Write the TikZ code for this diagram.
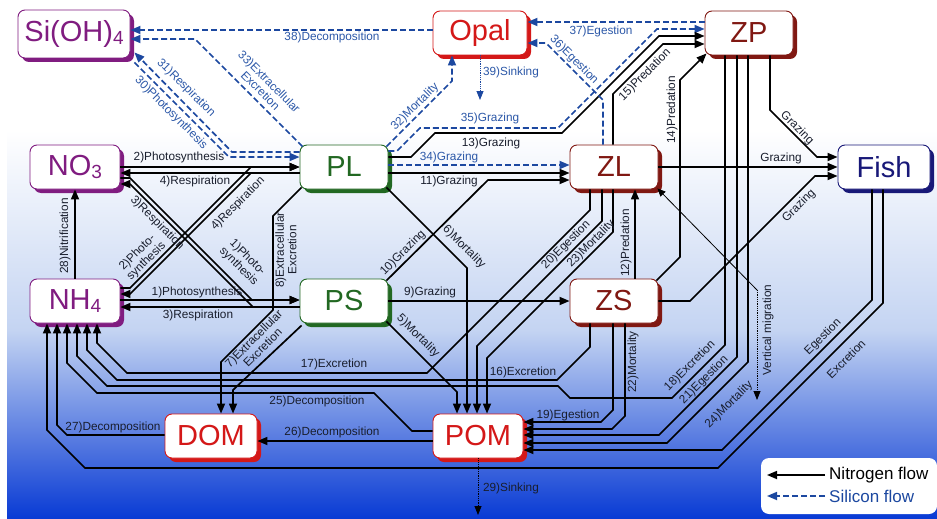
\documentclass[tikz,border=0pt]{standalone}
\usepackage{fontspec}
\setmainfont{Liberation Sans}
\usetikzlibrary{arrows.meta,shadows}
\definecolor{purp}{RGB}{128,28,128}
\definecolor{redc}{RGB}{212,24,24}
\definecolor{maroonc}{RGB}{128,24,18}
\definecolor{grn}{RGB}{34,104,34}
\definecolor{navyc}{RGB}{24,24,120}
\definecolor{silc}{RGB}{28,72,160}
\definecolor{silt}{RGB}{44,88,168}
\definecolor{labc}{RGB}{25,30,45}
\definecolor{bgl}{RGB}{196,212,242}
\definecolor{bgd}{RGB}{8,58,212}
\newcommand\mysub[1]{\raisebox{-3pt}{\fontsize{19}{19}\selectfont #1}}
\tikzset{
  box/.style={draw=#1, line width=0.9pt, fill=white, text=#1, rounded corners=7pt,
    minimum width=88pt, minimum height=44pt, inner sep=0pt,
    font=\fontsize{29}{30}\selectfont,
    general shadow={fill=#1, shadow xshift=4pt, shadow yshift=-4pt}},
  nflow/.style={draw=black, line width=1.7pt, -{Triangle[length=10pt,width=8pt]}},
  sflow/.style={draw=silc, line width=1.7pt, dash pattern=on 6pt off 3pt, -{Triangle[length=10pt,width=8pt]}},
  thinflow/.style={line width=0.8pt, densely dotted, -{Triangle[length=9pt,width=7pt]}},
  lab/.style={font=\fontsize{11.8}{12.5}\selectfont, inner sep=0pt, text=labc, align=center},
  slab/.style={lab, text=silt},
}
\begin{document}
\begin{tikzpicture}[x=1pt,y=-1pt]
\useasboundingbox (0,0) rectangle (937,519);
% background
\fill[white] (0,0) rectangle (937,519);
\shade[top color=white, bottom color=bgl] (0,130) rectangle (937,330);
\shade[top color=bgl, bottom color=bgd] (0,330) rectangle (937,519);
\fill[white] (0,0) rectangle (7,519);

% nodes
\node[box=purp, minimum width=112pt, minimum height=48pt] (Si) at (74,34) {Si(OH)\mysub{4}};
\node[box=redc, minimum width=94pt] (Opal) at (480,33) {Opal};
\node[box=maroonc] (ZP) at (749,33) {ZP};
\node[box=purp, minimum width=90pt] (NO3) at (75,167) {NO\mysub{3}};
\node[box=grn] (PL) at (344,167) {PL};
\node[box=maroonc] (ZL) at (614,167) {ZL};
\node[box=navyc, minimum width=92pt] (Fish) at (884,167) {Fish};
\node[box=purp, minimum width=90pt] (NH4) at (75,301) {NH\mysub{4}};
\node[box=grn] (PS) at (344,301) {PS};
\node[box=maroonc] (ZS) at (614,301) {ZS};
\node[box=redc, minimum width=92pt] (DOM) at (211,436) {DOM};
\node[box=redc, minimum width=90pt] (POM) at (478,436) {POM};

\coordinate (opsink) at (480,100);
\coordinate (pomsink) at (478,515);
\coordinate (vmb) at (757,290);
\coordinate (vme) at (757,400);

% NO3/NH4 <-> PL/PS
\draw[nflow] (NO3.east |- 0,167) -- (PL.west |- 0,167);
\draw[nflow] (PL.west |- 0,173) -- (NO3.east |- 0,173);
\draw[nflow] (NH4.east |- 0,300) -- (PS.west |- 0,300);
\draw[nflow] (PS.west |- 0,307) -- (NH4.east |- 0,307);
\draw[nflow] (NH4.east |- 0,288) -- (130,288) -- (251,167) -- (PL.west |- 0,167);
\draw[nflow] (PL.west |- 0,173) -- (251,173) -- (130,294) -- (NH4.east |- 0,294);
\draw[nflow] (NO3.east |- 0,178) -- (130,178) -- (252,300) -- (PS.west |- 0,300);
\draw[nflow] (PS.west |- 0,307) -- (253,307) -- (130,184) -- (NO3.east |- 0,184);
\draw[nflow] (NH4.north) -- (NO3.south);

% PL / PS outgoing
\draw[sflow] (PL.east |- 0,151) -- (397,151) -- (420,128) -- (558,128) -- (657,29) -- (ZP.west |- 0,29);
\draw[nflow] (PL.east |- 0,157) -- (411,157) -- (435,133) -- (562,133) -- (659,36) -- (ZP.west |- 0,36);
\draw[sflow] (PL.east |- 0,165) -- (ZL.west |- 0,165);
\draw[nflow] (PL.east |- 0,173) -- (ZL.west |- 0,173);
\draw[nflow] ([xshift=-2pt,yshift=-2pt]PS.north east) -- (488,180) -- (ZL.west |- 0,180);
\draw[nflow] ([xshift=-2pt,yshift=2pt]PL.south east) -- (467,268) -- (POM.north -| 467,0);
\draw[nflow] ([xshift=-2pt,yshift=2pt]PS.south east) -- (457,392) -- (POM.north -| 457,0);
\draw[nflow] (PS.east) -- (ZS.west);
\draw[nflow] ([xshift=2pt,yshift=2pt]PL.south west) -- (273,216) -- (273,310) -- (221,362) -- (DOM.north -| 221,0);
\draw[nflow] ([xshift=2pt,yshift=-2pt]PS.south west) -- (233,390) -- (DOM.north -| 233,0);

% ZL
\draw[nflow] (ZL.south -| 590,0) -- (590,210) -- (427,373) -- (127,373) -- (97,343) -- (NH4.south -| 97,0);
\draw[nflow] (ZL.south -| 602,0) -- (602,221) -- (477,346) -- (POM.north -| 477,0);
\draw[nflow] (ZL.south -| 613,0) -- (613,232) -- (487,358) -- (POM.north -| 487,0);
\draw[nflow] (ZS.north -| 635,0) -- (ZL.south -| 635,0);
\draw[nflow] (ZL.north -| 613,0) -- (613,94) -- (663,44) -- (ZP.west |- 0,44);
\draw[sflow] (ZL.north -| 603,0) -- (603,100) -- (546,43) -- (Opal.east |- 0,43);
\draw[nflow] (ZL.east) -- (Fish.west |- 0,167);

% ZS
\draw[nflow] ([xshift=-2pt,yshift=-2pt]ZS.north east) -- (680,257) -- (680,80) -- ([xshift=2pt,yshift=2pt]ZP.south west);
\draw[nflow] (ZS.east) -- (690,301) -- (815,176) -- (Fish.west |- 0,176);
\draw[nflow] (ZS.south -| 590,0) -- (590,347) -- (557,380) -- (117,380) -- (87,350) -- (NH4.south -| 87,0);
\draw[nflow] (ZS.south -| 613,0) -- (613,410) -- (601,422) -- (POM.east |- 0,422);
\draw[nflow] (ZS.south -| 625,0) -- (625,416) -- (612,429) -- (POM.east |- 0,429);

% ZP
\draw[nflow] (ZP.south -| 725,0) -- (725,345) -- (672,398) -- (570,398) -- (558,386) -- (107,386) -- (77,356) -- (NH4.south -| 77,0);
\draw[nflow] (ZP.south -| 737,0) -- (737,357) -- (659,435) -- (POM.east |- 0,435);
\draw[nflow] (ZP.south -| 748,0) -- (748,362) -- (667,443) -- (POM.east |- 0,443);
\draw[nflow] (ZP.south -| 770,0) -- (770,110) -- (817,157) -- (Fish.west |- 0,157);
\draw[sflow] (ZP.west |- 0,22) -- (Opal.east |- 0,22);

% Fish
\draw[nflow] (Fish.south -| 872,0) -- (872,300) -- (722,450) -- (POM.east |- 0,450);
\draw[nflow] (Fish.south -| 883,0) -- (883,303) -- (718,468) -- (85,468) -- (47,430) -- (NH4.south -| 47,0);

% POM / DOM
\draw[nflow] (POM.west |- 0,431) -- (412,431) -- (374,393) -- (97,393) -- (67,363) -- (NH4.south -| 67,0);
\draw[nflow] (POM.west |- 0,441) -- (DOM.east |- 0,441);
\draw[nflow] (DOM.west |- 0,435) -- (67,435) -- (57,425) -- (NH4.south -| 57,0);
\draw[thinflow] (POM.south) -- (pomsink);

% silicon
\draw[sflow] (Opal.west |- 0,30) -- (Si.east |- 0,30);
\draw[sflow] ([xshift=3pt,yshift=-2pt]PL.north west) -- (195,39) -- (Si.east |- 0,39);
\draw[sflow] (PL.west |- 0,152) -- (232,152) -- ([xshift=4pt,yshift=6pt]Si.south east);
\draw[sflow] ([xshift=4pt,yshift=-4pt]Si.south east) -- (229,157) -- (PL.west |- 0,157);
\draw[sflow] ([xshift=-2pt,yshift=-2pt]PL.north east) -- (452,81) -- (Opal.south -| 452,0);
\draw[thinflow, silc] (Opal.south) -- (opsink);

% vertical migration
\draw[line width=0.8pt, {Triangle[length=8pt,width=7pt]}-] ([xshift=-1pt,yshift=1pt]ZL.south east) -- (vmb);
\draw[thinflow] (vmb) -- (vme);

% labels
\node[lab] at (179,157) {2)Photosynthesis};
\node[lab] at (195,181) {4)Respiration};
\node[lab] at (197,292) {1)Photosynthesis};
\node[lab] at (198,315) {3)Respiration};
\node[lab, rotate=-45] at (157,223) {3)Respiration};
\node[lab, rotate=-45] at (243,262) {1)Photo-\\synthesis};
\node[lab, rotate=45] at (238,204) {4)Respiration};
\node[lab, rotate=45] at (142,257) {2)Photo-\\synthesis};
\node[lab, rotate=90] at (65,236) {28)Nitrification};
\node[lab, rotate=90] at (286,250) {8)Extracellular\\Excretion};
\node[lab, rotate=45] at (258,343) {7)Extracellular\\Excretion};
\node[lab, rotate=45] at (403,253) {10)Grazing};
\node[lab, rotate=-45] at (464,247) {6)Mortality};
\node[lab, rotate=-45] at (418,336) {5)Mortality};
\node[lab] at (430,292) {9)Grazing};
\node[lab] at (449,181) {11)Grazing};
\node[slab] at (449,157) {34)Grazing};
\node[lab] at (491,143) {13)Grazing};
\node[slab] at (490,118) {35)Grazing};
\node[slab, rotate=45] at (415,107) {32)Mortality};
\node[slab] at (511,72) {39)Sinking};
\node[slab] at (601,31) {37)Egestion};
\node[slab, rotate=-45] at (574,60) {36)Egestion};
\node[slab] at (332,37) {38)Decomposition};
\node[slab, rotate=-45] at (265,86) {33)Extracellular\\Excretion};
\node[slab, rotate=-45] at (186,88) {31)Respiration};
\node[slab, rotate=-45] at (171,113) {30)Photosynthesis};
\node[lab, rotate=45] at (645,75) {15)Predation};
\node[lab, rotate=90] at (672,110) {14)Predation};
\node[lab, rotate=90] at (626,243) {12)Predation};
\node[lab, rotate=45] at (566,245) {20)Egestion};
\node[lab, rotate=45] at (591,244) {23)Mortality};
\node[lab] at (781,158) {Grazing};
\node[lab, rotate=-45] at (797,128) {Grazing};
\node[lab, rotate=45] at (799,206) {Grazing};
\node[lab, rotate=90] at (768,330) {Vertical migration};
\node[lab] at (334,364) {17)Excretion};
\node[lab] at (523,372) {16)Excretion};
\node[lab] at (317,401) {25)Decomposition};
\node[lab] at (332,432) {26)Decomposition};
\node[lab] at (113,427) {27)Decomposition};
\node[lab] at (568,415) {19)Egestion};
\node[lab, rotate=90] at (633,362) {22)Mortality};
\node[lab, rotate=45] at (690,366) {18)Excretion};
\node[lab, rotate=45] at (704,380) {21)Egestion};
\node[lab, rotate=45] at (729,405) {24)Mortality};
\node[lab, rotate=45] at (823,337) {Egestion};
\node[lab, rotate=45] at (846,359) {Excretion};
\node[lab] at (511,488) {29)Sinking};

% legend
\node[fill=white, rounded corners=8pt, minimum width=176pt, minimum height=56pt, inner sep=0pt] (leg) at (849,486) {};
\node[anchor=west, font=\fontsize{17}{18}\selectfont, inner sep=0pt] (legN) at (829,475) {Nitrogen flow};
\node[anchor=west, font=\fontsize{17}{18}\selectfont, inner sep=0pt, text=silc] (legS) at (829,496) {Silicon flow};
\draw[nflow] ([xshift=-4pt]legN.west) -- ([xshift=-62pt]legN.west);
\draw[sflow] ([xshift=-4pt]legS.west) -- ([xshift=-62pt]legS.west);
\end{tikzpicture}
\end{document}
